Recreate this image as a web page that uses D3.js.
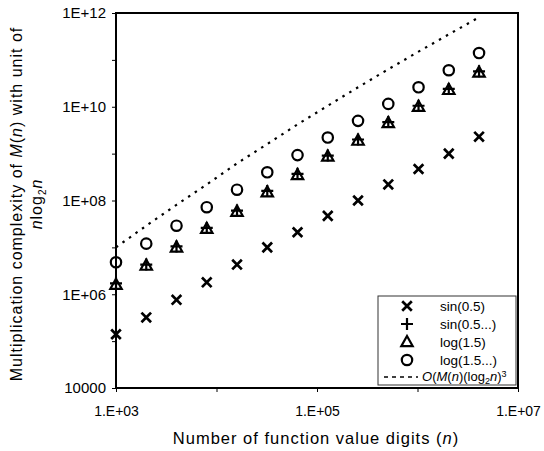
<!DOCTYPE html>
<html>
<head>
<meta charset="utf-8">
<script src="https://cdn.jsdelivr.net/npm/d3@7"></script>
<style>
  body { margin: 0; background: #fff; }
  text { font-family: 'Liberation Sans', Arial, sans-serif; fill: #000; }
</style>
</head>
<body>
<svg id="chart" width="544" height="451"></svg>
<script>
'use strict';

// n = number of function value digits (1000 * 2^k)
const digits = [1000, 2000, 4000, 8000, 16000, 32000, 64000, 128000, 256000,
  512000, 1024000, 2048000, 4096000];

const sin05 = [1.4e5, 3.2e5, 7.6e5, 1.8e6, 4.3e6, 1.0e7, 2.1e7, 4.7e7, 1.0e8,
  2.2e8, 4.7e8, 1.0e9, 2.3e9];
const sin05b = [1.7e6, 4.3e6, 1.05e7, 2.6e7, 6.1e7, 1.6e8, 3.7e8, 9.1e8, 2.0e9,
  4.7e9, 1.05e10, 2.4e10, 5.7e10];
const log15 = [1.6e6, 4.1e6, 1.0e7, 2.5e7, 5.8e7, 1.5e8, 3.5e8, 8.7e8, 1.9e9,
  4.5e9, 1.0e10, 2.3e10, 5.4e10];
const log15b = [4.8e6, 1.2e7, 2.9e7, 7.2e7, 1.7e8, 4.0e8, 9.3e8, 2.2e9, 5.0e9,
  1.15e10, 2.6e10, 6.0e10, 1.4e11];
const bound = [1.0e7, 2.9e7, 8.1e7, 2.2e8, 6.2e8, 1.6e9, 4.2e9, 1.05e10, 2.6e10,
  6.3e10, 1.5e11, 3.5e11, 8.1e11];

const xTicks = [1e3, 1e4, 1e5, 1e6, 1e7];
const xTickLabels = ['1.E+03', '', '1.E+05', '', '1.E+07'];
const yTicks = [1e4, 1e5, 1e6, 1e7, 1e8, 1e9, 1e10, 1e11, 1e12];
const yTickLabels = ['10000', '', '1E+06', '', '1E+08', '', '1E+10', '', '1E+12'];

const legendLabels = ['sin(0.5)', 'sin(0.5...)', 'log(1.5)', 'log(1.5...)'];

const svg = d3.select('#chart');
const m = { left: 116, right: 518, top: 13, bottom: 388 };

const x = d3.scaleLog().domain([1e3, 1e7]).range([m.left, m.right]);
const y = d3.scaleLog().domain([1e4, 1e12]).range([m.bottom, m.top]);

// symbols
const drawCross = (g, s) =>
  g.append('path')
    .attr('d', `M${-s},${-s}L${s},${s}M${-s},${s}L${s},${-s}`)
    .attr('stroke', '#000').attr('stroke-width', 2.7).attr('fill', 'none');
const drawPlus = (g, s) =>
  g.append('path')
    .attr('d', `M${-s},0L${s},0M0,${-s}L0,${s}`)
    .attr('stroke', '#000').attr('stroke-width', 2.2).attr('fill', 'none');
const drawTri = (g, s) =>
  g.append('path')
    .attr('d', `M0,${-s}L${s * 0.95},${s * 0.7}L${-s * 0.95},${s * 0.7}Z`)
    .attr('stroke', '#000').attr('stroke-width', 2.2).attr('fill', 'none');
const drawCircle = (g, s) =>
  g.append('circle')
    .attr('r', s)
    .attr('stroke', '#000').attr('stroke-width', 2.2).attr('fill', 'none');

const series = [
  { values: sin05, draw: drawCross, size: 4.8 },
  { values: log15, draw: drawTri, size: 6 },
  { values: sin05b, draw: drawPlus, size: 6 },
  { values: log15b, draw: drawCircle, size: 5.2 },
];

// axis titles
svg.append('text')
  .attr('x', 316).attr('y', 444)
  .attr('text-anchor', 'middle')
  .style('font-size', '16.5px')
  .style('letter-spacing', '1px')
  .call((t) => {
    t.append('tspan').text('Number of function value digits\u00a0(');
    t.append('tspan').attr('font-style', 'italic').text('n');
    t.append('tspan').text(')');
  });

const yTitle = svg.append('g').attr('transform', 'translate(22,204) rotate(-90)');
yTitle.append('text')
  .attr('text-anchor', 'middle')
  .style('font-size', '16px')
  .style('letter-spacing', '1px')
  .call((t) => {
    t.append('tspan').text('Multiplication complexity of ');
    t.append('tspan').attr('font-style', 'italic').text('M');
    t.append('tspan').text('(');
    t.append('tspan').attr('font-style', 'italic').text('n');
    t.append('tspan').text(') with unit of');
  });
yTitle.append('text')
  .attr('y', 20)
  .attr('text-anchor', 'middle')
  .style('font-size', '16px')
  .style('letter-spacing', '1px')
  .call((t) => {
    t.append('tspan').attr('font-style', 'italic').text('n');
    t.append('tspan').text('log');
    t.append('tspan').attr('dy', 4).style('font-size', '10px').text('2');
    t.append('tspan').attr('dy', -4).attr('font-style', 'italic').text('n');
  });

// axes
const xAxis = d3.axisBottom(x).tickValues(xTicks)
  .tickFormat((d, i) => xTickLabels[i]).tickSize(4).tickPadding(14);
const yAxis = d3.axisLeft(y).tickValues(yTicks)
  .tickFormat((d, i) => yTickLabels[i]).tickSize(4).tickPadding(6);

svg.append('g').attr('transform', `translate(0,${m.bottom})`).call(xAxis)
  .call((g) => g.select('.domain').remove())
  .selectAll('text').style('font-size', '14px').attr('font-family', 'Liberation Sans, Arial, sans-serif');
svg.append('g').attr('transform', `translate(${m.left},0)`).call(yAxis)
  .call((g) => g.select('.domain').remove())
  .selectAll('text').style('font-size', '15px').attr('font-family', 'Liberation Sans, Arial, sans-serif');

// bound line
const line = d3.line().x((d, i) => x(digits[i])).y((d) => y(d));
svg.append('path')
  .datum(bound)
  .attr('d', line)
  .attr('fill', 'none').attr('stroke', '#000')
  .attr('stroke-width', 2.2).attr('stroke-dasharray', '2.5,5.5');

// markers
series.forEach((s) => {
  s.values.forEach((v, i) => {
    const g = svg.append('g').attr('transform', `translate(${x(digits[i])},${y(v)})`);
    s.draw(g, s.size);
  });
});

// legend
const lg = svg.append('g').attr('transform', 'translate(378,296)');
lg.append('rect')
  .attr('width', 138).attr('height', 89)
  .attr('fill', '#fff').attr('stroke', '#333').attr('stroke-width', 1);

const legendDraw = [drawCross, drawPlus, drawTri, drawCircle];
const legendSize = [4.8, 6, 6, 5.2];
const rowY = [10, 28, 46, 64];
legendLabels.forEach((label, i) => {
  const row = lg.append('g').attr('transform', `translate(0,${rowY[i]})`);
  legendDraw[i](row.append('g').attr('transform', 'translate(29,0)'), legendSize[i]);
  row.append('text').attr('x', 62).attr('y', 5)
    .style('font-size', '13.5px').text(label);
});
const lastRow = lg.append('g').attr('transform', 'translate(0,81)');
lastRow.append('line')
  .attr('x1', 6).attr('x2', 40)
  .attr('stroke', '#000').attr('stroke-width', 1.6).attr('stroke-dasharray', '4,4');
lastRow.append('text').attr('x', 44).attr('y', 4)
  .style('font-size', '13px')
  .call((t) => {
    t.append('tspan').attr('font-style', 'italic').text('O');
    t.append('tspan').text('(');
    t.append('tspan').attr('font-style', 'italic').text('M');
    t.append('tspan').text('(');
    t.append('tspan').attr('font-style', 'italic').text('n');
    t.append('tspan').text(')(log');
    t.append('tspan').attr('dy', 3).style('font-size', '9px').text('2');
    t.append('tspan').attr('dy', -3).attr('font-style', 'italic').text('n');
    t.append('tspan').text(')');
    t.append('tspan').attr('dy', -4).style('font-size', '9px').text('3');
  });

// frame
svg.append('rect')
  .attr('x', m.left).attr('y', m.top)
  .attr('width', m.right - m.left).attr('height', m.bottom - m.top)
  .attr('fill', 'none').attr('stroke', '#000').attr('stroke-width', 2);
</script>
</body>
</html>
